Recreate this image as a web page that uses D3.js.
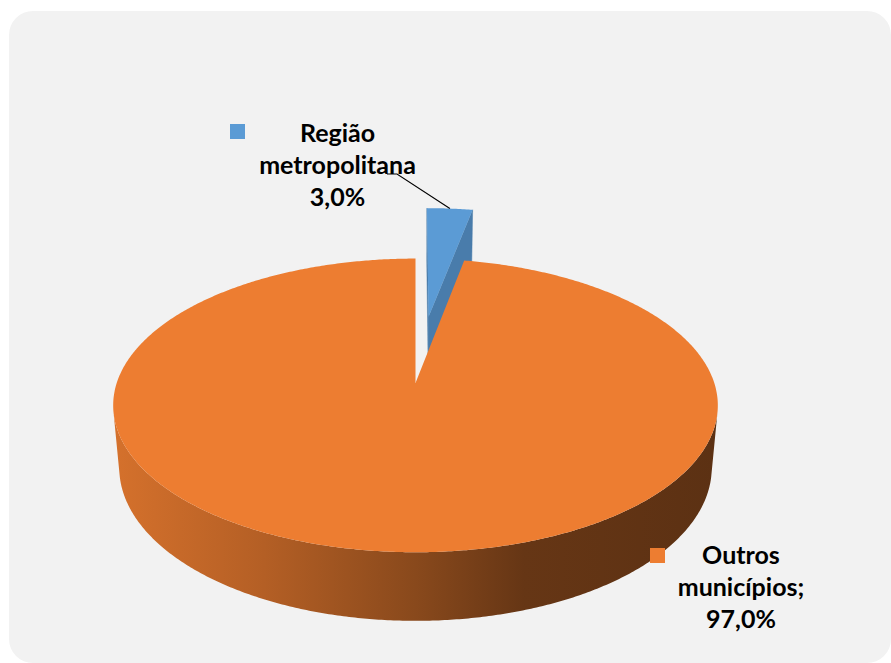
<!DOCTYPE html>
<html>
<head>
<meta charset="utf-8">
<script src="https://cdn.jsdelivr.net/npm/d3@7"></script>
<style>
  html, body { margin: 0; padding: 0; background: #ffffff; }
  svg { display: block; }
</style>
</head>
<body>
<svg id="chart" width="891" height="663"></svg>
<script>
// Data
const categories = ["Região metropolitana", "Outros municípios"];
const values = [3.0, 97.0];
const colors = ["#5B9BD5", "#ED7D31"];
const labelLines = [["Região", "metropolitana"], ["Outros", "municípios;"]];

const W = 891, H = 663;
const svg = d3.select("#chart");
const ptBR = d3.formatLocale({ decimal: ",", thousands: ".", grouping: [3], currency: ["R$", ""] });
const fmtPct = v => ptBR.format(".1f")(v) + "%";

// Chart area background
svg.append("rect")
  .attr("x", 9).attr("y", 11)
  .attr("width", 882).attr("height", 652)
  .attr("rx", 24).attr("ry", 24)
  .attr("fill", "#f2f2f2");

// Perspective camera for the 3D pie (unit radius, thickness h)
const view = { cx: 415.5, cy: 383, f: 1718, D: 5.75, s: 0.48, h: 0.24 };
view.c = Math.sqrt(1 - view.s * view.s);
const camPos = [0, view.D * view.s, -view.D * view.c];

function project([X, Y, Z]) {
  const d = view.D + Z * view.c - Y * view.s;
  const u = Y * view.c + Z * view.s;
  return [view.cx + view.f * X / d, view.cy - view.f * u / d];
}
function depth([X, Y, Z]) { return view.D + Z * view.c - Y * view.s; }

const pie = d3.pie().sort(null).value(d => d);
const arcs = pie(values);

const line = d3.line().curve(d3.curveLinearClosed);
const defs = svg.append("defs");

// Shaded side wall gradient, light from the left
function sideGradient(id, base) {
  const g = defs.append("linearGradient").attr("id", id)
    .attr("gradientUnits", "userSpaceOnUse")
    .attr("x1", 113).attr("y1", 0).attr("x2", 717).attr("y2", 0);
  const b = d3.rgb(base);
  [[0, 0.9], [0.25, 0.76], [0.5, 0.58], [0.68, 0.43], [1, 0.39]].forEach(([o, k]) => {
    g.append("stop").attr("offset", o)
      .attr("stop-color", d3.rgb(b.r * k, b.g * k, b.b * k).formatHex());
  });
}

const slices = arcs.map((a, i) => {
  const mid = (a.startAngle + a.endAngle) / 2;
  const e = i === 0 ? 0.5 : 0;          // the small slice is pulled out
  const ox = e * Math.sin(mid), oz = e * Math.cos(mid);
  const pt = (ang, r, y) => [ox + r * Math.sin(ang), y, oz + r * Math.cos(ang)];
  return { a, i, mid, ox, oz, pt, d: depth(pt(mid, 0.5, 0)) };
});

const pieG = svg.append("g");
slices.sort((p, q) => q.d - p.d).forEach(sl => {
  const { a, i, pt } = sl;
  const base = colors[i];
  const g = pieG.append("g").attr("class", "slice");
  const a0 = a.startAngle, a1 = a.endAngle;
  const n = Math.max(4, Math.ceil((a1 - a0) / (Math.PI / 360)));
  const angs = d3.range(n + 1).map(k => a0 + (a1 - a0) * k / n);
  const faces = (P, nrm) => {
    const v = [camPos[0] - P[0], camPos[1] - P[1], camPos[2] - P[2]];
    return nrm[0] * v[0] + nrm[1] * v[1] + nrm[2] * v[2] > 1e-3;
  };
  const dark = d3.color(base).darker(0.62).formatHex();

  // radial walls
  [[a0, [-Math.cos(a0), 0, Math.sin(a0)]], [a1, [Math.cos(a1), 0, -Math.sin(a1)]]].forEach(([ang, nrm]) => {
    const c0 = pt(ang, 0, 0), r0 = pt(ang, 1, 0), r1 = pt(ang, 1, -view.h), c1 = pt(ang, 0, -view.h);
    const P = pt(ang, 0.5, 0);
    if (!faces(P, nrm)) return;
    g.append("path").attr("d", line([c0, r0, r1, c1].map(project)))
      .attr("fill", dark).attr("stroke", dark).attr("stroke-width", 0.5);
  });

  // curved outer wall: only the part facing the camera
  const vis = angs.map(ang => faces(pt(ang, 1, 0), [Math.sin(ang), 0, Math.cos(ang)]));
  const runs = [];
  let cur = null;
  angs.forEach((ang, k) => {
    if (vis[k]) { if (!cur) { cur = []; runs.push(cur); } cur.push(ang); }
    else cur = null;
  });
  if (runs.length) sideGradient("side" + i, base);
  runs.forEach(run => {
    if (run.length < 2) return;
    const top = run.map(ang => project(pt(ang, 1, 0)));
    const bot = run.slice().reverse().map(ang => project(pt(ang, 1, -view.h)));
    g.append("path").attr("d", line(top.concat(bot)))
      .attr("fill", `url(#side${i})`);
  });

  // top face
  const topPts = [project(pt(0, 0, 0))].concat(angs.map(ang => project(pt(ang, 1, 0))));
  g.append("path").attr("d", line(topPts)).attr("fill", base);
  sl.rimMid = project(pt(sl.mid, 1, 0));
});

// Data labels with legend keys
const fontFam = "Lato, 'Open Sans', sans-serif";
function drawLabel(lines, cx, y0, keyX, keyY, color) {
  const g = svg.append("g");
  g.append("rect").attr("x", keyX).attr("y", keyY).attr("width", 15).attr("height", 15).attr("fill", color);
  lines.forEach((t, k) => {
    g.append("text").attr("x", cx).attr("y", y0 + k * 32)
      .attr("text-anchor", "middle")
      .attr("font-family", fontFam).attr("font-weight", 700).attr("font-size", 25)
      .attr("fill", "#000").text(t);
  });
}
drawLabel(labelLines[0].concat([fmtPct(values[0])]), 337.5, 142, 230, 124, colors[0]);
drawLabel([labelLines[1][0], labelLines[1][1], fmtPct(values[1])], 741, 564, 650, 548, colors[1]);

// Leader line to the pulled-out slice
const small = slices.find(s => s.i === 0);
svg.append("path")
  .attr("d", d3.line()([[387, 174], [397, 174], small.rimMid]))
  .attr("fill", "none").attr("stroke", "#000").attr("stroke-width", 1.1);
</script>
</body>
</html>
